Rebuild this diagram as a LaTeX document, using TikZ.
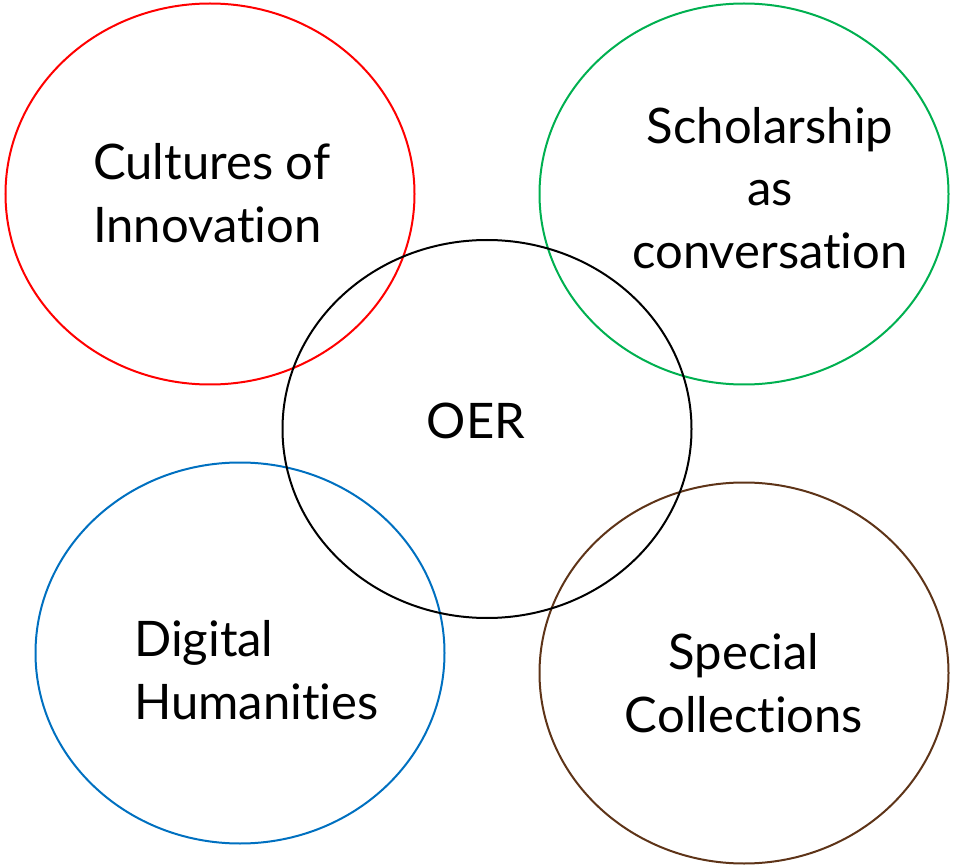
\documentclass[tikz,border=0pt]{standalone}
\usepackage{fontspec}
\setmainfont{Lato}[Ligatures={NoCommon}]
\usetikzlibrary{shapes.geometric}
\definecolor{oRed}{HTML}{FF0000}
\definecolor{oGreen}{HTML}{00B050}
\definecolor{oBlue}{HTML}{0070C0}
\definecolor{oBrown}{HTML}{5E3418}
\tikzset{
  circ/.style={ellipse, draw, line width=2pt, inner sep=0pt, minimum width=409pt, minimum height=381pt},
  lbl/.style={font=\fontsize{49}{62.5}\selectfont, inner sep=0pt}
}
\begin{document}
\begin{tikzpicture}[x=1pt,y=-1pt]
\useasboundingbox (0,0) rectangle (953,866);
\node[circ, draw=oRed] (cult) at (210,194) {};
\node[circ, draw=oGreen] (schol) at (744,194) {};
\node[circ, draw=oBlue] (dh) at (240,653) {};
\node[circ, draw=oBrown] (spec) at (744,673) {};
\node[circ, draw=black, minimum height=378pt] (oer) at (487,429) {};
\node[lbl, align=left, anchor=west] (tcult) at (93,193) {Cultures of\\Innovation};
\node[lbl, align=center] (tschol) at (770,188) {Scholarship\\as\\conversation};
\node[lbl] (toer) at (476,421) {OER};
\node[lbl, align=left, anchor=west] (tdh) at (134,670) {Digital\\Humanities};
\node[lbl, align=center] (tspec) at (744,683) {Special\\Collections};
\end{tikzpicture}
\end{document}
